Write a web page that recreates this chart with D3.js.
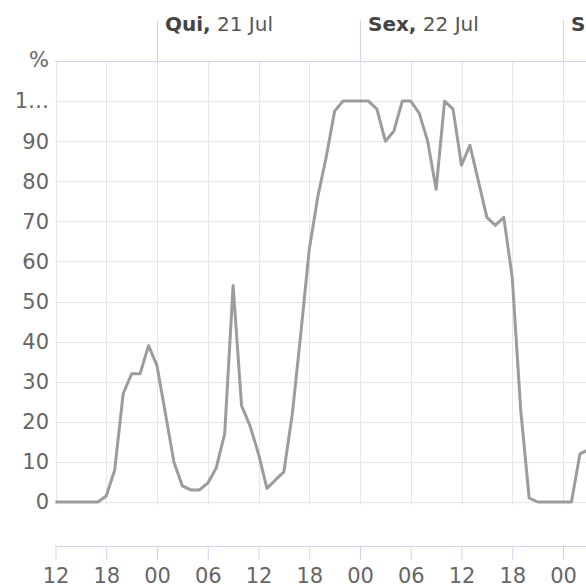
<!DOCTYPE html>
<html>
<head>
<meta charset="utf-8">
<script src="https://cdn.jsdelivr.net/npm/d3@7"></script>
<style>
  body { margin: 0; background: #fff; }
  text { font-family: "DejaVu Sans", sans-serif; }
</style>
</head>
<body>
<svg id="chart"></svg>
<script>
// hourly readings starting Wed 20 Jul 12:00
const start = new Date(2022, 6, 20, 12);
const humidity = [
  0, 0, 0, 0, 0, 0, 1.5, 8, 27, 32, 32, 39,
  34, 22, 10, 4, 3, 3, 4.7, 8.5, 17, 54, 24, 19,
  12, 3.4, 5.5, 7.5, 22, 42, 63, 76, 86, 97.5, 100, 100,
  100, 100, 98, 90, 92.5, 100, 100, 97, 90, 78, 100, 98,
  84, 89, 80, 71, 69, 71, 56, 23, 1, 0, 0, 0,
  0, 0, 12, 13
];
const yTicks = [0, 10, 20, 30, 40, 50, 60, 70, 80, 90, 100];
const dayNames = ["Dom", "Seg", "Ter", "Qua", "Qui", "Sex", "Sáb"];
const monthNames = ["Jan", "Fev", "Mar", "Abr", "Mai", "Jun", "Jul", "Ago", "Set", "Out", "Nov", "Dez"];

const width = 586, height = 588;
const svg = d3.select("#chart").attr("width", width).attr("height", height);

const points = humidity.map((v, i) => ({ t: d3.timeHour.offset(start, i), v }));

const x = d3.scaleTime()
  .domain([start, new Date(2022, 6, 23, 0)])
  .range([55.5, 563]);
const y = d3.scaleLinear().domain([0, 110]).range([502, 61]);

const plotLeft = 55, plotRight = width, plotTop = 61, plotBottom = 505;
const end = x.invert(plotRight);

svg.append("defs").append("clipPath").attr("id", "clip")
  .append("rect").attr("x", plotLeft).attr("y", 0).attr("width", plotRight - plotLeft).attr("height", plotBottom);

// grid
const grid = svg.append("g").attr("clip-path", "url(#clip)");
grid.selectAll(".hg").data(yTicks).enter().append("line")
  .attr("x1", plotLeft).attr("x2", plotRight)
  .attr("y1", d => Math.round(y(d)) + 0.5).attr("y2", d => Math.round(y(d)) + 0.5)
  .attr("stroke", "#e6e6e6");
grid.selectAll(".vg").data(d3.timeHour.every(6).range(start, end)).enter().append("line")
  .attr("x1", d => Math.round(x(d)) + 0.5).attr("x2", d => Math.round(x(d)) + 0.5)
  .attr("y1", plotTop).attr("y2", plotBottom)
  .attr("stroke", "#e6e6e6");

// top axis line and day labels
svg.append("line").attr("x1", plotLeft).attr("x2", plotRight).attr("y1", plotTop + 0.5).attr("y2", plotTop + 0.5)
  .attr("stroke", "#ccd6eb");
const days = d3.timeDay.range(d3.timeDay.ceil(start), end);
svg.selectAll(".div").data(days).enter().append("line")
  .attr("x1", d => Math.round(x(d)) + 0.5).attr("x2", d => Math.round(x(d)) + 0.5)
  .attr("y1", 20).attr("y2", plotTop)
  .attr("stroke", "#ccd6eb");
const dl = svg.selectAll(".dl").data(days).enter().append("text")
  .attr("x", d => x(d) + 8).attr("y", 31)
  .attr("font-size", 20).attr("fill", "#555");
dl.append("tspan").attr("font-weight", "bold").attr("fill", "#444").text(d => dayNames[d.getDay()] + ",");
dl.append("tspan").text(d => " " + d.getDate() + " " + monthNames[d.getMonth()]);

// y labels
svg.append("text").attr("x", 49).attr("y", 60).attr("dy", "0.35em")
  .attr("text-anchor", "end").attr("font-size", 21).attr("fill", "#666").text("%");
svg.selectAll(".yl").data(yTicks).enter().append("text")
  .attr("x", 49).attr("y", d => y(d)).attr("dy", "0.35em")
  .attr("text-anchor", "end").attr("font-size", 21).attr("fill", "#666")
  .text(d => d === 100 ? "1…" : d);

// bottom axis
const xAxis = svg.append("g").attr("transform", "translate(0,546)")
  .call(d3.axisBottom(x).ticks(d3.timeHour.every(6)).tickFormat(d3.timeFormat("%H")).tickSize(14).tickSizeOuter(0));
xAxis.select(".domain").attr("d", `M${plotLeft},0.5H${plotRight}`).attr("stroke", "#ccd6eb");
xAxis.selectAll(".tick line").attr("stroke", "#ccd6eb");
xAxis.selectAll(".tick").filter(d => x(d) > plotRight - 5).remove();
xAxis.selectAll(".tick text").attr("font-size", 21).attr("fill", "#666").attr("y", 36.5).attr("dy", 0)
  .attr("font-family", "DejaVu Sans, sans-serif");

// series
svg.append("path").datum(points).attr("clip-path", "url(#clip)")
  .attr("fill", "none").attr("stroke", "#9c9c9c").attr("stroke-width", 3)
  .attr("stroke-linejoin", "round")
  .attr("d", d3.line().x(d => x(d.t)).y(d => y(d.v)));
</script>
</body>
</html>
